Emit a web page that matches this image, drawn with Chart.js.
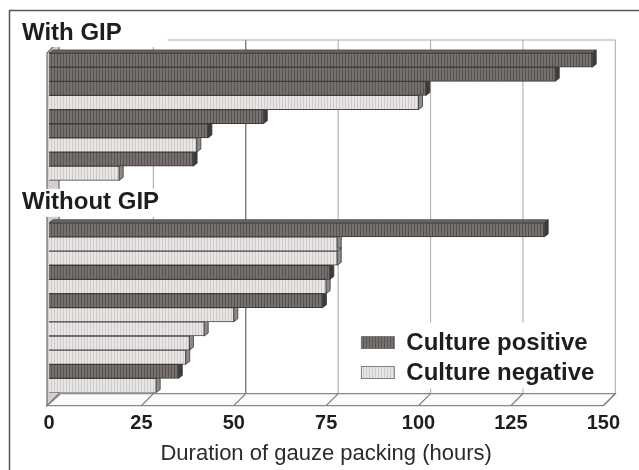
<!DOCTYPE html>
<html>
<head>
<meta charset="utf-8">
<script src="https://cdn.jsdelivr.net/npm/chart.js@4.4.0/dist/chart.umd.min.js"></script>
<style>
  body { margin: 0; background: #fff; }
</style>
</head>
<body>
<canvas id="gauze-chart" width="639" height="470"></canvas>
<script>
// hours of gauze packing per patient, longest first in each group
const groupTitles = ["With GIP", "Without GIP"];
const withGipHours = [147, 137, 102, 100, 58, 43, 40, 39, 19];
const withGipCulture = ["+", "+", "+", "-", "+", "+", "-", "+", "-"];
const withoutGipHours = [134, 78, 78, 76, 75, 74, 50, 42, 38, 37, 35, 29];
const withoutGipCulture = ["+", "-", "-", "+", "-", "+", "-", "-", "-", "-", "+", "-"];
const seriesLabels = ["Culture positive", "Culture negative"];
const xTicks = [0, 25, 50, 75, 100, 125, 150];
const xTitle = "Duration of gauze packing (hours)";

const gapRows = 3;
const hours = [...withGipHours, ...Array(gapRows).fill(null), ...withoutGipHours];
const culture = [...withGipCulture, ...Array(gapRows).fill(null), ...withoutGipCulture];
const groupStarts = [0, withGipHours.length + gapRows];

const positiveData = hours.map((h, i) => (culture[i] === "+" ? h : null));
const negativeData = hours.map((h, i) => (culture[i] === "-" ? h : null));

const FONT = "'Liberation Sans', Arial, sans-serif";
const WALL = 12;          // depth of walls / floor
const BAR_DX = 4, BAR_DY = 3;

const canvas = document.getElementById("gauze-chart");
const c2d = canvas.getContext("2d");

function stripes(base, line) {
  const t = document.createElement("canvas");
  t.width = 3; t.height = 2;
  const g = t.getContext("2d");
  g.fillStyle = base; g.fillRect(0, 0, 3, 2);
  g.fillStyle = line; g.fillRect(0, 0, 1, 2);
  return c2d.createPattern(t, "repeat");
}

const darkFill = stripes("#77726f", "#57524f");
const lightFill = stripes("#e9e6e6", "#cdc9c9");

// back wall, floor and left wall drawn behind the bars
const boxPlugin = {
  id: "box3d",
  beforeDatasetsDraw(chart) {
    const { ctx, chartArea: a, scales: { x } } = chart;
    const x0 = x.getPixelForValue(xTicks[0]);
    const xEnd = x.getPixelForValue(xTicks[xTicks.length - 1]);
    const back = a.bottom + 1, front = a.bottom + 13, wallTop = a.top - 13;
    ctx.save();
    ctx.lineWidth = 1.2;
    xTicks.slice(1).forEach(v => {
      const px = x.getPixelForValue(v) + WALL;
      ctx.strokeStyle = v === 50 ? "#6a6565" : "#b9b4b4";
      ctx.beginPath(); ctx.moveTo(px, wallTop); ctx.lineTo(px, back); ctx.stroke();
    });
    ctx.strokeStyle = "#aaa5a5";
    ctx.beginPath(); ctx.moveTo(x0 + WALL, wallTop); ctx.lineTo(xEnd + WALL, wallTop); ctx.stroke();

    // floor
    ctx.fillStyle = "#fbfbfb";
    ctx.strokeStyle = "#8d8888";
    ctx.beginPath();
    ctx.moveTo(x0 - 2, front); ctx.lineTo(xEnd, front);
    ctx.lineTo(xEnd + WALL, back); ctx.lineTo(x0 + WALL, back);
    ctx.closePath(); ctx.fill(); ctx.stroke();
    ctx.strokeStyle = "#7a7575";
    xTicks.slice(1).forEach(v => {
      const px = x.getPixelForValue(v);
      ctx.beginPath(); ctx.moveTo(px, front); ctx.lineTo(px + WALL, back); ctx.stroke();
    });

    // left wall
    ctx.fillStyle = "#d3cfce";
    ctx.strokeStyle = "#6f6a69";
    ctx.beginPath();
    ctx.moveTo(x0 - 2, a.top); ctx.lineTo(x0 - 2 + WALL, a.top - WALL);
    ctx.lineTo(x0 - 2 + WALL, back); ctx.lineTo(x0 - 2, front);
    ctx.closePath(); ctx.fill(); ctx.stroke();

    // top and end faces of each bar
    chart.data.datasets.forEach((ds, di) => {
      chart.getDatasetMeta(di).data.forEach((el, j) => {
        if (ds.data[j] == null) return;
        const { x: xe, y, base, height } = el.getProps(["x", "y", "base", "height"], true);
        const top = y - height / 2, bottom = y + height / 2;
        ctx.fillStyle = ds.topColor;
        ctx.strokeStyle = "#3b3838";
        ctx.lineWidth = 0.8;
        ctx.beginPath();
        ctx.moveTo(base, top); ctx.lineTo(base + BAR_DX, top - BAR_DY);
        ctx.lineTo(xe + BAR_DX, top - BAR_DY); ctx.lineTo(xe, top);
        ctx.closePath(); ctx.fill(); ctx.stroke();
        ctx.fillStyle = ds.sideColor;
        ctx.beginPath();
        ctx.moveTo(xe, top); ctx.lineTo(xe + BAR_DX, top - BAR_DY);
        ctx.lineTo(xe + BAR_DX, bottom - BAR_DY); ctx.lineTo(xe, bottom);
        ctx.closePath(); ctx.fill(); ctx.stroke();
      });
    });
    ctx.restore();
  }
};

// group headings, legend box and outer frame
const labelPlugin = {
  id: "labels",
  afterDatasetsDraw(chart) {
    const { ctx, chartArea: a, scales: { y } } = chart;
    const rowH = Math.abs(y.getPixelForValue(1) - y.getPixelForValue(0));
    ctx.save();
    ctx.font = "bold 24px " + FONT;
    ctx.textBaseline = "middle";
    groupTitles.forEach((t, i) => {
      const mid = y.getPixelForValue(groupStarts[i]) - rowH / 2 - 20;
      const w = ctx.measureText(t).width;
      ctx.fillStyle = "#fff";
      ctx.fillRect(16, mid - 14, w + 52, 28);
      ctx.fillStyle = "#1e1e1e";
      ctx.fillText(t, 22, mid);
    });

    // legend in the lower right of the plot
    const lx = a.right - 248, ly = a.bottom - 70;
    ctx.fillStyle = "#fff";
    ctx.fillRect(lx - 4, ly, 254, 66);
    chart.data.datasets.forEach((ds, i) => {
      const cy = ly + 20 + i * 30;
      ctx.fillStyle = ds.backgroundColor;
      ctx.fillRect(lx + 6, cy - 6, 33, 12);
      ctx.strokeStyle = "#6a6565";
      ctx.lineWidth = 0.8;
      ctx.strokeRect(lx + 6, cy - 6, 33, 12);
      ctx.fillStyle = "#1e1e1e";
      ctx.fillText(ds.label, lx + 51, cy + 1);
    });
    ctx.restore();
  },
  afterDraw(chart) {
    const ctx = chart.ctx;
    ctx.save();
    ctx.strokeStyle = "#555";
    ctx.lineWidth = 1.5;
    ctx.beginPath();
    ctx.moveTo(chart.width, 10.5); ctx.lineTo(9.5, 10.5); ctx.lineTo(9.5, chart.height);
    ctx.stroke();
    ctx.restore();
  }
};

new Chart(canvas, {
  type: "bar",
  data: {
    labels: hours.map((h, i) => String(i + 1)),
    datasets: [
      {
        label: seriesLabels[0],
        data: positiveData,
        backgroundColor: darkFill,
        topColor: "#6c6766",
        sideColor: "#3f3b3a",
        borderColor: "#3b3838",
        borderWidth: 1,
      },
      {
        label: seriesLabels[1],
        data: negativeData,
        backgroundColor: lightFill,
        topColor: "#cfcbcb",
        sideColor: "#8f8a89",
        borderColor: "#4a4646",
        borderWidth: 1,
      },
    ],
  },
  options: {
    indexAxis: "y",
    responsive: false,
    animation: false,
    devicePixelRatio: 1,
    grouped: false,
    barPercentage: 1,
    categoryPercentage: 1,
    layout: { padding: { left: 49, right: 33, top: 53, bottom: 3 } },
    scales: {
      x: {
        min: xTicks[0],
        max: xTicks[xTicks.length - 1],
        border: { display: false },
        grid: { display: false, drawTicks: false },
        afterBuildTicks: axis => { axis.ticks = xTicks.map(v => ({ value: v })); },
        ticks: {
          autoSkip: false,
          maxRotation: 0,
          padding: 19,
          color: "#1e1e1e",
          font: { family: FONT, size: 20, weight: "bold" },
        },
        title: {
          display: true,
          text: xTitle,
          color: "#2a2a2a",
          padding: { top: -14, bottom: 0 },
          font: { family: FONT, size: 22 },
        },
      },
      y: { display: false },
    },
    plugins: {
      legend: { display: false },
      tooltip: { enabled: false },
    },
  },
  plugins: [boxPlugin, labelPlugin],
});
</script>
</body>
</html>
